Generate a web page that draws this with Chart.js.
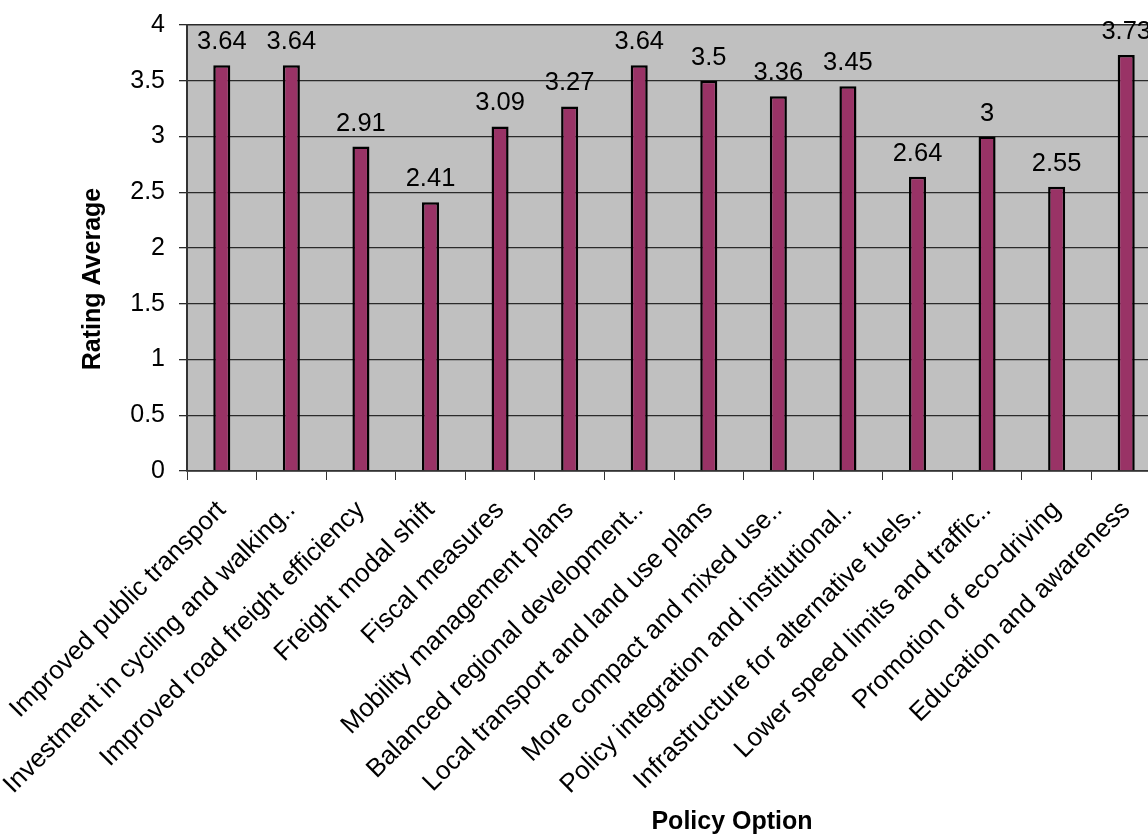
<!DOCTYPE html>
<html>
<head>
<meta charset="utf-8">
<script src="https://cdn.jsdelivr.net/npm/chart.js@4"></script>
<style>
html,body{margin:0;padding:0;background:#fff;overflow:hidden;width:1148px;height:834px;}
canvas{display:block;}
</style>
</head>
<body>
<canvas id="c" width="1175" height="834"></canvas>
<script>
const categories = [
  "Improved public transport",
  "Investment in cycling and walking..",
  "Improved road freight efficiency",
  "Freight modal shift",
  "Fiscal measures",
  "Mobility management plans",
  "Balanced regional development..",
  "Local transport and land use plans",
  "More compact and mixed use..",
  "Policy integration and institutional..",
  "Infrastructure for alternative fuels..",
  "Lower speed limits and traffic..",
  "Promotion of eco-driving",
  "Education and awareness"
];
const ratingAverage = [3.64, 3.64, 2.91, 2.41, 3.09, 3.27, 3.64, 3.5, 3.36, 3.45, 2.64, 3, 2.55, 3.73];
const valueLabels = ["3.64", "3.64", "2.91", "2.41", "3.09", "3.27", "3.64", "3.5", "3.36", "3.45", "2.64", "3", "2.55", "3.73"];
const yTickLabels = ["0", "0.5", "1", "1.5", "2", "2.5", "3", "3.5", "4"];
const yAxisTitle = "Rating Average";
const xAxisTitle = "Policy Option";

const FONT = "'Liberation Sans', Arial, sans-serif";

const plotBg = {
  id: 'plotBg',
  beforeDraw(chart) {
    const {ctx, chartArea: a} = chart;
    ctx.save();
    ctx.fillStyle = '#C0C0C0';
    ctx.fillRect(a.left, a.top, a.right - a.left, a.bottom - a.top);
    ctx.strokeStyle = '#808080';
    ctx.lineWidth = 1.5;
    ctx.strokeRect(a.left, a.top, a.right - a.left, a.bottom - a.top);
    ctx.restore();
  }
};

const valueLabelsPlugin = {
  id: 'valueLabels',
  afterDatasetsDraw(chart) {
    const {ctx} = chart;
    const meta = chart.getDatasetMeta(0);
    ctx.save();
    ctx.font = "25.5px " + FONT;
    ctx.fillStyle = '#000';
    ctx.textAlign = 'center';
    ctx.textBaseline = 'alphabetic';
    meta.data.forEach((bar, i) => {
      ctx.fillText(valueLabels[i], bar.x, bar.y - 16);
    });
    ctx.restore();
  }
};

const titlesPlugin = {
  id: 'titles',
  afterDraw(chart) {
    const {ctx, chartArea: a} = chart;
    ctx.save();
    ctx.font = "bold 25px " + FONT;
    ctx.fillStyle = '#000';
    ctx.textAlign = 'center';
    ctx.textBaseline = 'middle';
    ctx.fillText(xAxisTitle, a.left + 545, a.bottom + 351);
    ctx.translate(a.left - 94, a.top + 254);
    ctx.rotate(-Math.PI / 2);
    ctx.fillText(yAxisTitle, 0, 0);
    ctx.restore();
  }
};

new Chart(document.getElementById('c'), {
  type: 'bar',
  data: {
    labels: categories,
    datasets: [{
      data: ratingAverage,
      backgroundColor: '#993366',
      borderColor: '#000',
      borderWidth: 2.5,
      categoryPercentage: 1,
      barPercentage: 0.245
    }]
  },
  options: {
    responsive: false,
    animation: false,
    layout: {padding: {left: 0, right: 14, top: 25, bottom: 0}},
    plugins: {legend: {display: false}, tooltip: {enabled: false}},
    scales: {
      x: {
        grid: {display: true, drawOnChartArea: false, drawTicks: true, tickLength: 9, color: '#333', offset: true},
        border: {color: '#333', width: 1.5},
        ticks: {
          color: '#000', font: {family: FONT, size: 26},
          minRotation: 45, maxRotation: 45, autoSkip: false, padding: 15
        },
        afterFit(scale) { scale.height = 363; scale.paddingLeft = 0; scale.paddingRight = 0; }
      },
      y: {
        min: 0, max: 4,
        grid: {color: '#2a2a2a', lineWidth: 1.3, tickLength: 8, drawTicks: true},
        border: {color: '#333', width: 2},
        ticks: {
          stepSize: 0.5, color: '#000', font: {family: FONT, size: 25}, padding: 14,
          callback: (v, i) => yTickLabels[i]
        },
        afterFit(scale) { scale.width = 187; scale.paddingTop = 0; scale.paddingBottom = 0; }
      }
    }
  },
  plugins: [plotBg, valueLabelsPlugin, titlesPlugin]
});
</script>
</body>
</html>
